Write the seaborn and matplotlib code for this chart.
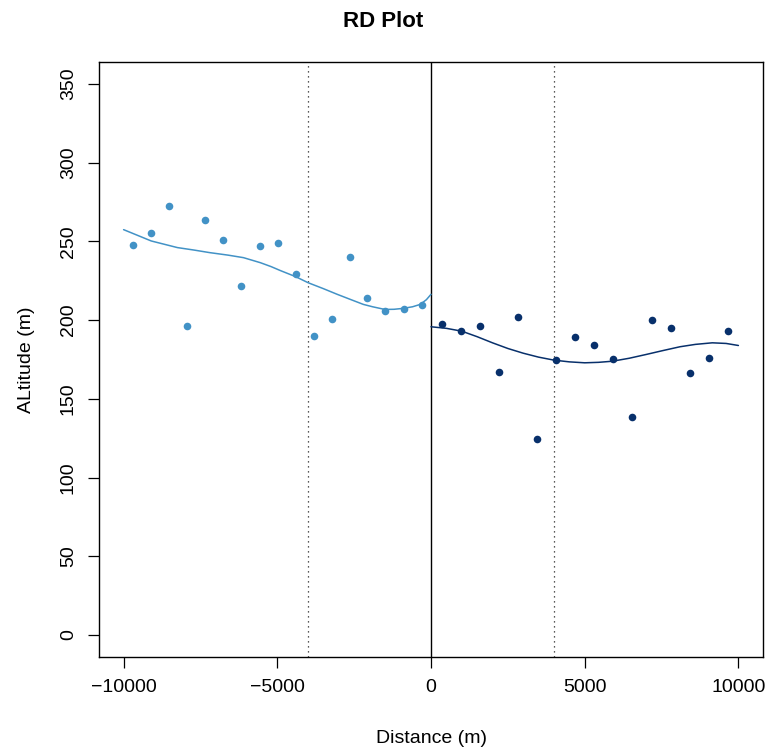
import numpy as np
import pandas as pd
import matplotlib
matplotlib.use("Agg")
import matplotlib.pyplot as plt
import seaborn as sns

# ---- data ----
left_x = [-9685, -9101, -8516, -7922, -7348, -6753, -6169, -5574, -4990,
          -4405, -3820, -3236, -2651, -2067, -1482, -887, -303]
left_y = [247.7, 255.2, 272.4, 196.4, 263.5, 251.2, 221.9, 247.3, 249.0,
          229.1, 190.1, 200.5, 239.9, 214.3, 205.8, 207.3, 209.6]

right_x = [346, 974, 1591, 2208, 2825, 3442, 4070, 4686, 5303, 5931,
           6548, 7175, 7803, 8420, 9036, 9665]
right_y = [197.7, 193.0, 196.6, 167.2, 201.9, 124.5, 174.4, 189.6, 183.9,
           175.4, 138.7, 200.2, 194.9, 166.5, 176.1, 193.0]

left_fit_x = [-10000, -9500, -9100, -8250, -7700, -7200, -6600, -6100, -5550,
              -5200, -4900, -4400, -4000, -3500, -3050, -2600, -2200, -1900,
              -1500, -1200, -900, -600, -350, -150, 0]
left_fit_y = [257.5, 253.5, 250.3, 246.1, 244.5, 242.9, 241.3, 239.7, 236.5,
              234.0, 231.5, 227.6, 223.8, 220.0, 216.4, 213.0, 210.0, 208.5,
              206.8, 206.9, 207.5, 208.5, 210.0, 213.0, 216.4]

right_fit_x = [0, 500, 1000, 1500, 2000, 2500, 3000, 3500, 4000, 4500, 5000,
               5450, 5900, 6450, 7000, 7550, 8100, 8600, 9150, 9600, 10000]
right_fit_y = [195.8, 194.8, 193.0, 189.5, 185.6, 182.0, 179.0, 176.5, 174.6,
               173.5, 172.9, 173.2, 173.9, 175.8, 178.2, 180.7, 183.1, 184.6,
               185.6, 185.2, 183.9]

x_ticks = [-10000, -5000, 0, 5000, 10000]
y_ticks = [0, 50, 100, 150, 200, 250, 300, 350]
bandwidth = [-4000, 4000]

c_left = "#4292c6"
c_right = "#08306b"

sns.set_theme(style="ticks")
plt.rcParams["font.family"] = ["Liberation Sans", "DejaVu Sans"]
plt.rcParams["text.color"] = "black"

fig = plt.figure(figsize=(7.67, 7.53), dpi=100)
ax = fig.add_axes([99 / 767, 1 - 657 / 753, (763 - 99) / 767, (657 - 62) / 753])

left_pts = pd.DataFrame({"x": left_x, "y": left_y})
right_pts = pd.DataFrame({"x": right_x, "y": right_y})
left_fit = pd.DataFrame({"x": left_fit_x, "y": left_fit_y})
right_fit = pd.DataFrame({"x": right_fit_x, "y": right_fit_y})

sns.lineplot(data=left_fit, x="x", y="y", color=c_left, lw=1.1, ax=ax,
             estimator=None, sort=False)
sns.lineplot(data=right_fit, x="x", y="y", color=c_right, lw=1.1, ax=ax,
             estimator=None, sort=False)
sns.scatterplot(data=left_pts, x="x", y="y", color=c_left, s=30,
                linewidth=0, ax=ax, zorder=3)
sns.scatterplot(data=right_pts, x="x", y="y", color=c_right, s=30,
                linewidth=0, ax=ax, zorder=3)

ax.axvline(0, color="black", lw=1.0, zorder=1)
for b in bandwidth:
    ax.axvline(b, color="#222222", lw=0.9, linestyle=(0, (1, 3)), zorder=1)

ax.set_xlim(-10800, 10800)
ax.set_ylim(-14, 364)
ax.set_xticks(x_ticks)
ax.set_xticklabels(["\u221210000", "\u22125000", "0", "5000", "10000"])
ax.set_yticks(y_ticks)
ax.set_yticklabels([str(v) for v in y_ticks], rotation=90, va="center")

for s in ax.spines.values():
    s.set_visible(True)
    s.set_color("black")
    s.set_linewidth(1.0)

ax.tick_params(axis="both", direction="out", length=8, width=0.9,
               color="black", labelsize=14, labelcolor="black", pad=8)

ax.set_xlabel("Distance (m)", fontsize=14, color="black", labelpad=24)
ax.set_ylabel("ALtitude (m)", fontsize=14, color="black", labelpad=18)
fig.suptitle("RD Plot", fontsize=16, fontweight="bold", color="black", y=0.985)

fig.savefig("out.png", dpi=100)
